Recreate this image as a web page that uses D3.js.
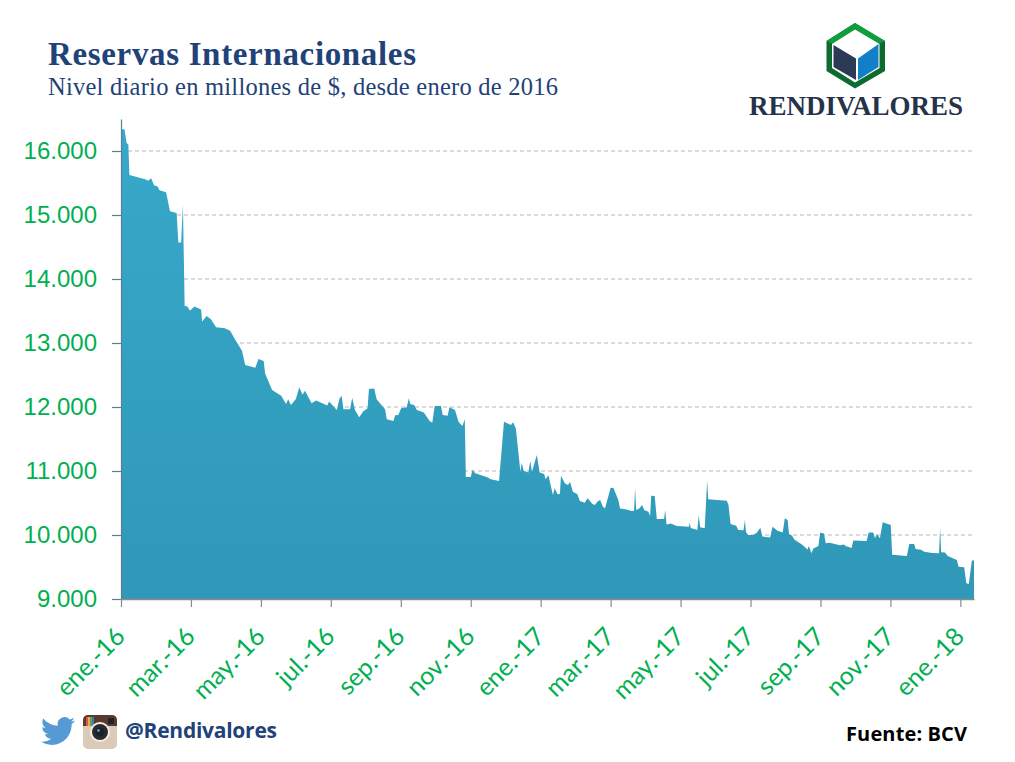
<!DOCTYPE html>
<html>
<head>
<meta charset="utf-8">
<script src="https://cdn.jsdelivr.net/npm/d3@7"></script>
<style>
html, body { margin: 0; padding: 0; background: #fff; }
svg { display: block; }
.eje-y text { font-family: "Liberation Sans", sans-serif; font-size: 24px; fill: #00b050; }
.eje-x text { font-family: Lato, sans-serif; font-size: 25px; fill: #00b050; }
</style>
</head>
<body>
<svg id="grafico" width="1015" height="762"></svg>
<script>
// reservas: [meses desde ene-16, millones de $]
const reservas = [
[0,16340],[.1,16340],[.16,16125],[.21,16100],[.24,15625],[.45,15595],[.69,15560],[.78,15535],[.86,15575],[.95,15460],
[1.04,15450],[1.1,15385],[1.29,15355],[1.4,15060],[1.59,15030],[1.64,14570],[1.72,14570],[1.77,15170],[1.82,13580],[1.9,13570],
[1.97,13505],[2.1,13570],[2.29,13525],[2.32,13335],[2.45,13420],[2.57,13370],[2.72,13245],[2.97,13230],[3.12,13190],[3.27,13045],
[3.46,12880],[3.55,12655],[3.84,12615],[3.93,12750],[4.08,12720],[4.12,12525],[4.32,12265],[4.58,12175],[4.72,12045],[4.78,12120],
[4.86,12030],[5,12125],[5.1,12310],[5.19,12190],[5.26,12255],[5.45,12060],[5.58,12100],[5.9,12025],[5.95,12085],[6.17,11955],
[6.25,12135],[6.31,12170],[6.36,11965],[6.55,11965],[6.61,12145],[6.69,11955],[6.81,11840],[6.93,11935],[7.05,11980],[7.09,12280],
[7.24,12290],[7.31,12120],[7.55,11965],[7.6,11810],[7.79,11780],[7.84,11870],[7.93,11875],[8.01,11980],[8.17,11995],[8.23,12135],
[8.27,12045],[8.38,12030],[8.46,11955],[8.66,11915],[8.82,11785],[8.9,11755],[8.97,12015],[9.15,12015],[9.2,11875],[9.34,11865],
[9.39,11995],[9.55,11955],[9.65,11770],[9.76,11705],[9.83,11810],[9.86,10905],[10,10905],[10.05,11015],[10.13,10965],[10.49,10900],
[10.57,10870],[10.81,10845],[10.95,11770],[11.15,11720],[11.21,11760],[11.29,11665],[11.42,10990],[11.46,11130],[11.51,11005],[11.65,10975],
[11.7,11160],[11.75,10990],[11.89,11250],[11.97,10975],[12.1,10955],[12.14,10870],[12.22,10935],[12.35,10625],[12.4,10730],[12.48,10635],
[12.55,10640],[12.58,10925],[12.69,10810],[12.78,10780],[12.84,10830],[12.92,10675],[13.05,10635],[13.12,10530],[13.26,10505],[13.34,10575],
[13.48,10485],[13.55,10470],[13.62,10520],[13.7,10545],[13.78,10440],[13.84,10415],[14,10740],[14.08,10735],[14.22,10545],[14.27,10415],
[14.46,10400],[14.6,10375],[14.67,10380],[14.7,10730],[14.73,10390],[14.82,10415],[14.9,10470],[14.96,10390],[15.08,10365],[15.13,10295],
[15.16,10615],[15.26,10610],[15.32,10250],[15.53,10250],[15.56,10390],[15.6,10165],[15.72,10180],[15.89,10140],[16.24,10130],[16.26,10190],
[16.29,10110],[16.48,10080],[16.52,10310],[16.56,10120],[16.69,10105],[16.76,10850],[16.79,10560],[17.32,10535],[17.37,10470],[17.43,10170],
[17.59,10145],[17.65,10080],[17.8,10075],[17.84,10235],[17.87,10045],[17.93,10000],[18.08,10000],[18.18,10035],[18.28,10115],[18.34,9975],
[18.56,9960],[18.63,10130],[18.77,10065],[18.92,10040],[18.98,10260],[19.06,10235],[19.1,10015],[19.19,9990],[19.25,9930],[19.47,9850],
[19.63,9775],[19.67,9830],[19.74,9715],[19.8,9790],[19.94,9830],[19.99,10035],[20.1,10025],[20.15,9870],[20.26,9880],[20.56,9840],
[20.67,9850],[20.72,9830],[20.89,9795],[20.94,9915],[21.32,9905],[21.38,10040],[21.51,10040],[21.56,9950],[21.61,10015],[21.7,9950],
[21.78,10200],[22.01,10155],[22.05,9690],[22.47,9670],[22.54,9860],[22.68,9860],[22.72,9780],[22.87,9770],[22.97,9740],[23.19,9720],
[23.39,9715],[23.42,10105],[23.45,9730],[23.56,9725],[23.64,9670],[23.9,9610],[23.95,9505],[24.11,9495],[24.17,9245],[24.24,9235],
[24.33,9600],[24.39,9600]
];
const meses = ["ene.-16","mar.-16","may.-16","jul.-16","sep.-16","nov.-16","ene.-17","mar.-17","may.-17","jul.-17","sep.-17","nov.-17","ene.-18"];

const svg = d3.select("#grafico");
const x = d3.scaleLinear().domain([0, 24.39]).range([121, 974]);
const y = d3.scaleLinear().domain([9000, 16500]).range([599, 119]);
const miles = d3.formatLocale({decimal: ",", thousands: ".", grouping: [3], currency: ["$", ""]}).format(",d");

const grad = svg.append("defs").append("linearGradient").attr("id", "relleno")
    .attr("gradientUnits", "userSpaceOnUse")
    .attr("x1", 0).attr("x2", 0).attr("y1", y(16500)).attr("y2", y(9000));
grad.append("stop").attr("offset", "0").attr("stop-color", "#37a9ca");
grad.append("stop").attr("offset", "1").attr("stop-color", "#3098b8");

// lineas de fondo
svg.append("g").selectAll("line").data(d3.range(10000, 16001, 1000)).enter().append("line")
    .attr("x1", x(0)).attr("x2", x(24.39))
    .attr("y1", d => y(d)).attr("y2", d => y(d))
    .attr("stroke", "#b5b5b5").attr("stroke-width", 1).attr("stroke-dasharray", "4,3");

svg.append("path").datum(reservas)
    .attr("fill", "url(#relleno)")
    .attr("d", d3.area().x(d => x(d[0])).y0(y(9000)).y1(d => y(d[1])));

const ejeY = svg.append("g").attr("class", "eje-y").attr("transform", "translate(121,0)")
    .call(d3.axisLeft(y).tickValues(d3.range(9000, 16001, 1000)).tickFormat(miles).tickSize(9).tickPadding(15).tickSizeOuter(0));
ejeY.selectAll("line").attr("stroke", "#5d7f95").attr("stroke-width", 1.2);
ejeY.select(".domain").attr("stroke", "#5d7f95").attr("stroke-width", 1.2);

const ejeX = svg.append("g").attr("class", "eje-x").attr("transform", "translate(0,599)")
    .call(d3.axisBottom(x).tickValues(d3.range(0, 25, 2)).tickFormat(d => meses[d / 2]).tickSize(8).tickSizeOuter(0));
ejeX.selectAll("line").attr("stroke", "#8a8a8a").attr("stroke-width", 1.2);
ejeX.select(".domain").attr("stroke", "#8a8a8a").attr("stroke-width", 1.5);
ejeX.selectAll("text")
    .attr("text-anchor", "end").attr("x", 0).attr("y", 0).attr("dy", 0)
    .attr("transform", "translate(5,39) rotate(-45)");

// titulos
const serif = "'Liberation Serif', serif";
svg.append("text").attr("x", 48).attr("y", 65).attr("font-family", serif).attr("font-weight", "bold")
    .attr("font-size", 33).attr("fill", "#1f4278").attr("textLength", 368).attr("lengthAdjust", "spacing").text("Reservas Internacionales");
svg.append("text").attr("x", 48).attr("y", 95).attr("font-family", serif)
    .attr("font-size", 24.5).attr("fill", "#1f4278").attr("textLength", 510).attr("lengthAdjust", "spacing").text("Nivel diario en millones de $, desde enero de 2016");

// logo
const logo = svg.append("g");
logo.append("polygon").attr("points", "855,23 885,41 885,71 855,88.5 826.5,71 826.5,41").attr("fill", "#0d6b2e");
logo.append("polygon").attr("points", "855,23 885,41 878,44 855,30 833,44 826.5,41").attr("fill", "#0f9d3e");
logo.append("polygon").attr("points", "855,29.5 879.5,44 879.5,68 855,82.5 832,68 832,44").attr("fill", "#fff");
logo.append("polygon").attr("points", "833.5,45 856,58.5 856,80 833.5,67").attr("fill", "#2c3a55");
logo.append("polygon").attr("points", "878.5,44 878.5,67 858,80 858,58.5").attr("fill", "#1280c8");
svg.append("text").attr("x", 856).attr("y", 115).attr("text-anchor", "middle").attr("font-family", serif).attr("font-weight", "bold")
    .attr("font-size", 27).attr("fill", "#26324a").attr("textLength", 214).attr("lengthAdjust", "spacing").text("RENDIVALORES");

// pie
svg.append("path").attr("transform", "translate(41,714) scale(1.42)").attr("fill", "#559ad5")
    .attr("d", "M23.953 4.57a10 10 0 01-2.825.775 4.958 4.958 0 002.163-2.723c-.951.555-2.005.959-3.127 1.184a4.92 4.92 0 00-8.384 4.482C7.69 8.095 4.067 6.13 1.64 3.162a4.822 4.822 0 00-.666 2.475c0 1.71.87 3.213 2.188 4.096a4.904 4.904 0 01-2.228-.616v.06a4.923 4.923 0 003.946 4.827 4.996 4.996 0 01-2.212.085 4.936 4.936 0 004.604 3.417 9.867 9.867 0 01-6.102 2.105c-.39 0-.779-.023-1.17-.067a13.995 13.995 0 007.557 2.209c9.053 0 13.998-7.496 13.998-13.985 0-.21 0-.42-.015-.63A9.935 9.935 0 0024 4.59z");

const insta = svg.append("g").attr("transform", "translate(83,715)");
insta.append("rect").attr("width", 34).attr("height", 34).attr("rx", 5).attr("fill", "#d9cbb8");
insta.append("path").attr("d", "M5 0H29A5 5 0 0 1 34 5V11H0V5A5 5 0 0 1 5 0Z").attr("fill", "#5a3a2c");
[["#d9534a", 3], ["#e6b23c", 5], ["#5aa35a", 7], ["#3f78b5", 9]].forEach(c => {
    insta.append("rect").attr("x", c[1]).attr("y", 2).attr("width", 2).attr("height", 9).attr("fill", c[0]);
});
insta.append("rect").attr("x", 25).attr("y", 3).attr("width", 6).attr("height", 6).attr("fill", "#20242a");
insta.append("circle").attr("cx", 17).attr("cy", 17).attr("r", 10).attr("fill", "#f4efe6");
insta.append("circle").attr("cx", 17).attr("cy", 17).attr("r", 8).attr("fill", "#2b2b2e");
insta.append("circle").attr("cx", 17).attr("cy", 17).attr("r", 4.5).attr("fill", "#16222e");
insta.append("circle").attr("cx", 15.5).attr("cy", 15.5).attr("r", 1.3).attr("fill", "#8fa6b8");

svg.append("text").attr("x", 125).attr("y", 738).attr("font-family", "'Open Sans', sans-serif").attr("font-weight", "bold")
    .attr("font-size", 21).attr("fill", "#1f4278").attr("textLength", 152).attr("lengthAdjust", "spacing").text("@Rendivalores");
svg.append("text").attr("x", 846).attr("y", 741).attr("font-family", "'Open Sans', sans-serif").attr("font-weight", "bold")
    .attr("font-size", 20).attr("fill", "#000").attr("textLength", 121).attr("lengthAdjust", "spacing").text("Fuente: BCV");
</script>
</body>
</html>
